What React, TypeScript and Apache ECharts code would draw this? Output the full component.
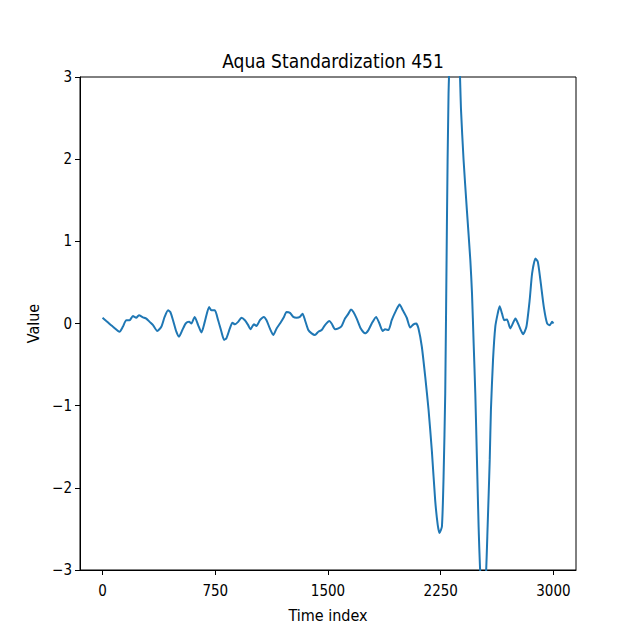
import React, { useEffect, useRef } from "react";
import * as echarts from "echarts";

const TITLE = "Aqua Standardization 451";
const X_LABEL = "Time index";
const Y_LABEL = "Value";
const X_TICKS = [0, 750, 1500, 2250, 3000];
const Y_TICKS = [-3, -2, -1, 0, 1, 2, 3];

const timeIndex = [
  0, 25, 69, 113, 135, 158, 180, 202, 224, 242, 269, 291, 313, 336, 364, 391, 413, 436, 451, 469,
  491, 509, 531, 553, 576, 591, 613, 636, 658, 680, 709, 724, 747, 769, 791, 809, 824, 847, 864, 880,
  902, 924, 947, 969, 984, 1007, 1024, 1047, 1073, 1091, 1113, 1136, 1158, 1184, 1207, 1224, 1247,
  1269, 1291, 1313, 1331, 1347, 1369, 1391, 1413, 1436, 1458, 1480, 1509, 1524, 1547, 1569, 1591,
  1613, 1636, 1653, 1669, 1691, 1718, 1747, 1769, 1791, 1820, 1842, 1864, 1880, 1902, 1924, 1953,
  1976, 1998, 2024, 2047, 2069, 2087, 2102, 2124, 2147, 2169, 2191, 2213, 2230, 2242, 2258, 2269,
  2280, 2291, 2302, 2320, 2345, 2370, 2385, 2402, 2424, 2447, 2458, 2469, 2480, 2491, 2502, 2515,
  2533, 2550, 2562, 2576, 2584, 2598, 2613, 2629, 2642, 2658, 2673, 2691, 2713, 2747, 2769, 2798,
  2820, 2842, 2858, 2880, 2896, 2913, 2936, 2958, 2976, 2991, 3000,
];

const values = [
  0.07, 0.03, -0.04, -0.1, -0.04, 0.04, 0.04, 0.09, 0.07, 0.1, 0.075, 0.06, 0.02, -0.02, -0.09, -0.04,
  0.08, 0.16, 0.14, 0.04, -0.1, -0.16, -0.08, 0.0, 0.02, 0.0, 0.08, -0.02, -0.11, 0.02, 0.2, 0.16, 0.16,
  0.04, -0.1, -0.2, -0.18, -0.06, 0.01, -0.01, 0.02, 0.07, 0.04, -0.02, -0.07, -0.01, -0.03, 0.04, 0.08,
  0.04, -0.06, -0.14, -0.06, 0.01, 0.08, 0.14, 0.13, 0.08, 0.07, 0.08, 0.12, 0.04, -0.08, -0.12, -0.14,
  -0.1, -0.08, -0.02, 0.03, 0.0, -0.07, -0.06, -0.03, 0.06, 0.12, 0.17, 0.14, 0.06, -0.06, -0.12, -0.08,
  0.0, 0.08, 0.0, -0.09, -0.07, -0.08, 0.04, 0.16, 0.23, 0.16, 0.07, -0.05, -0.01, 0.0, -0.06, -0.28,
  -0.65, -1.05, -1.55, -2.15, -2.45, -2.55, -2.47, -1.86, -0.85, 1.18, 2.8, 3.5, 3.65, 3.4, 2.6, 1.99,
  1.38, 0.77, 0.37, -0.24, -0.85, -1.66, -2.47, -3.1, -3.4, -3.1, -2.47, -1.66, -1.05, -0.44, -0.04,
  0.12, 0.21, 0.12, 0.04, 0.05, -0.06, 0.06, -0.02, -0.13, -0.04, 0.29, 0.61, 0.79, 0.75, 0.53, 0.2,
  0.0, -0.02, 0.02, 0.0,
];

const FONT = "'DejaVu Sans Condensed', 'Liberation Sans Narrow', 'DejaVu Sans', sans-serif";

export default function App() {
  const ref = useRef<HTMLDivElement>(null);
  useEffect(() => {
    if (!ref.current) return;
    const chart = echarts.init(ref.current, undefined, { renderer: "svg" });
    const data = timeIndex.map((t, i) => [t, values[i]]);
    chart.setOption({
      animation: false,
      backgroundColor: "#ffffff",
      title: {
        text: TITLE,
        left: 328,
        textAlign: "center",
        top: 46,
        textStyle: { fontFamily: FONT, fontSize: 19, fontWeight: "normal", color: "#000" },
      },
      grid: {
        left: 80,
        right: 64,
        top: 77,
        bottom: 70,
        show: true,
        borderColor: "#000",
        borderWidth: 1,
        backgroundColor: "transparent",
      },
      xAxis: {
        type: "value",
        min: -150,
        max: 3150,
        name: X_LABEL,
        nameLocation: "middle",
        nameGap: 37,
        nameTextStyle: { fontFamily: FONT, fontSize: 16, color: "#000" },
        axisLine: { show: true, onZero: false, lineStyle: { color: "#000", width: 1 } },
        axisTick: { show: true, length: 5, customValues: X_TICKS, lineStyle: { color: "#000" } },
        axisLabel: {
          customValues: X_TICKS,
          fontFamily: FONT,
          fontSize: 15,
          color: "#000",
          margin: 13,
          formatter: (v: number) => String(v),
        },
        splitLine: { show: false },
      },
      yAxis: {
        type: "value",
        min: Y_TICKS[0],
        max: Y_TICKS[Y_TICKS.length - 1],
        interval: 1,
        name: Y_LABEL,
        nameLocation: "middle",
        nameGap: 35,
        nameTextStyle: { fontFamily: FONT, fontSize: 16, color: "#000" },
        axisLine: { show: true, onZero: false, lineStyle: { color: "#000", width: 1 } },
        axisTick: { show: true, length: 5, lineStyle: { color: "#000" } },
        axisLabel: {
          fontFamily: FONT,
          fontSize: 15,
          color: "#000",
          margin: 8,
          formatter: (v: number) => String(v).replace("-", "\u2212"),
        },
        splitLine: { show: false },
      },
      series: [
        {
          type: "line",
          data,
          showSymbol: false,
          symbol: "none",
          clip: true,
          smooth: 0.2,
          lineStyle: { color: "#1f77b4", width: 2 },
        },
      ],
    });
    return () => chart.dispose();
  }, []);
  return (
    <div
      ref={ref}
      style={{ width: 640, height: 640, position: "absolute", left: 0, top: 0 }}
    />
  );
}
